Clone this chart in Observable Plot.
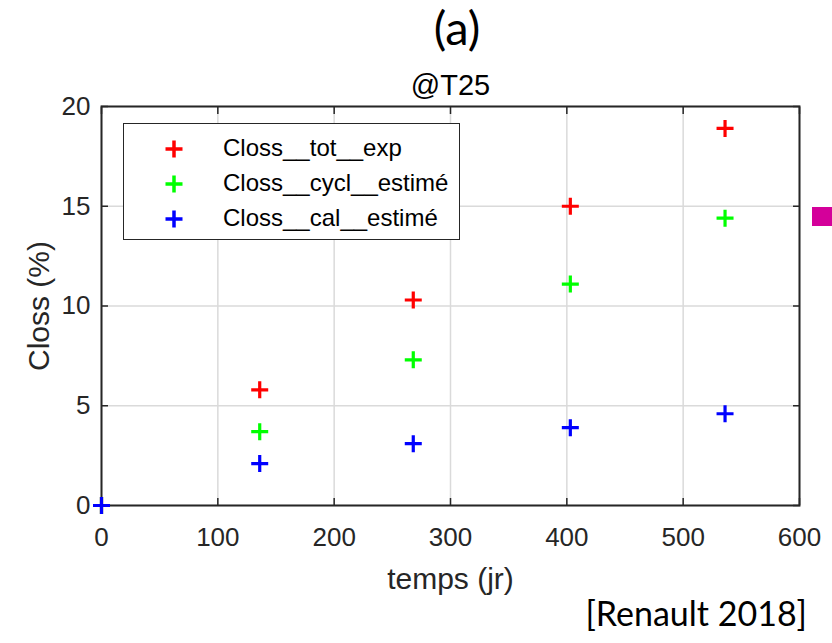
<!DOCTYPE html>
<html><head><meta charset="utf-8">
<script src="https://cdn.jsdelivr.net/npm/d3@7"></script>
<script src="https://cdn.jsdelivr.net/npm/@observablehq/plot@0.6"></script>
<style>
html,body{margin:0;padding:0;background:#fff;}
#wrap{position:relative;width:832px;height:643px;overflow:hidden;background:#fff;}
#wrap svg.plot{position:absolute;left:0;top:0;}
.title{position:absolute;left:0;width:914px;text-align:center;top:4px;font-family:Lato,"Open Sans",sans-serif;font-size:47px;color:#000;line-height:1;}
.caption{position:absolute;right:25px;top:596px;font-family:Lato,"Open Sans",sans-serif;font-size:34px;color:#000;line-height:1;}
.legend{position:absolute;left:123px;top:123px;width:335px;height:115px;border:1.5px solid #262626;background:#fff;font-family:"Liberation Sans",Arial,sans-serif;font-size:24px;color:#000;}
.legend .row{position:absolute;left:0;height:30px;line-height:30px;}
.legend .row svg{position:absolute;left:40px;top:6px;}
.legend .row span{position:absolute;left:99px;white-space:nowrap;}
.mark{position:absolute;left:812px;top:207px;width:20px;height:19px;background:#d4009a;}
</style></head><body>
<div id="wrap"></div>
<script>
// ---- data ----
const days = [0, 136, 268, 403, 536];
const clossTotExp = [0, 5.8, 10.3, 15.0, 18.9];
const clossCyclEstime = [0, 3.7, 7.3, 11.1, 14.4];
const clossCalEstime = [0, 2.1, 3.1, 3.9, 4.6];
const seriesNames = ["Closs__tot__exp", "Closs__cycl__estimé", "Closs__cal__estimé"];
const seriesColors = ["#ff0000", "#00ff00", "#0000ff"];
const xTicks = [0, 100, 200, 300, 400, 500, 600];
const yTicks = [0, 5, 10, 15, 20];
const titleText = "(a)";
const subtitleText = "@T25";
const xLabel = "temps (jr)";
const yLabel = "Closs (%)";
const captionText = "[Renault 2018]";

const seriesValues = [clossTotExp, clossCyclEstime, clossCalEstime];
const series = seriesNames.map((name, i) => ({
  name, color: seriesColors[i],
  points: days.map((t, j) => ({t, v: seriesValues[i][j]}))
}));

const plusSym = {draw(ctx) { const h = 8.5; ctx.moveTo(-h, 0); ctx.lineTo(h, 0); ctx.moveTo(0, -h); ctx.lineTo(0, h); }};
const axisFont = "'Liberation Sans',Arial,sans-serif";
const ink = "#262626";

const chart = Plot.plot({
  width: 832, height: 643,
  marginLeft: 101, marginRight: 33, marginTop: 106, marginBottom: 138,
  style: {fontFamily: axisFont, background: "transparent", color: ink},
  x: {domain: [0, 600], label: null},
  y: {domain: [0, 20], label: null},
  marks: [
    Plot.gridX(xTicks, {stroke: "#dadada", strokeOpacity: 1, strokeWidth: 1.5}),
    Plot.gridY(yTicks, {stroke: "#dadada", strokeOpacity: 1, strokeWidth: 1.5}),
    Plot.axisX(xTicks, {anchor: "bottom", tickSize: -7, tickPadding: 29, fontSize: 26, stroke: ink, fill: ink, strokeWidth: 1.5, label: null, tickFormat: d => String(d)}),
    Plot.axisX(xTicks, {anchor: "top", tickSize: -7, stroke: ink, strokeWidth: 1.5, label: null, tickFormat: () => ""}),
    Plot.axisY(yTicks, {anchor: "left", tickSize: -7, tickPadding: 18, fontSize: 26, stroke: ink, fill: ink, strokeWidth: 1.5, label: null, tickFormat: d => String(d)}),
    Plot.axisY(yTicks, {anchor: "right", tickSize: -7, stroke: ink, strokeWidth: 1.5, label: null, tickFormat: () => ""}),
    Plot.frame({stroke: ink, strokeWidth: 2}),
    ...series.map(s => Plot.dot(s.points, {x: "t", y: "v", symbol: plusSym, r: 8, fill: "none", stroke: s.color, strokeWidth: 3.2})),
    Plot.text([xLabel], {text: d => d, frameAnchor: "bottom", lineAnchor: "middle", textAnchor: "middle", dy: 74, fontSize: 30, fill: ink}),
    Plot.text([yLabel], {text: d => d, frameAnchor: "left", lineAnchor: "middle", textAnchor: "middle", dx: -62, rotate: -90, fontSize: 30, fill: ink}),
    Plot.text([subtitleText], {text: d => d, frameAnchor: "top", lineAnchor: "middle", textAnchor: "middle", dy: -21, fontSize: 29, fill: "#000"})
  ]
});

const wrap = document.getElementById("wrap");
wrap.appendChild(chart);

const t = document.createElement("div"); t.className = "title"; t.textContent = titleText; wrap.appendChild(t);
const c = document.createElement("div"); c.className = "caption"; c.textContent = captionText; wrap.appendChild(c);
const m = document.createElement("div"); m.className = "mark"; wrap.appendChild(m);

const lg = document.createElement("div"); lg.className = "legend";
const rowTops = [9, 44, 79];
series.forEach((s, i) => {
  const row = document.createElement("div"); row.className = "row"; row.style.top = rowTops[i] + "px";
  row.innerHTML = `<svg width="20" height="20" viewBox="-10 -10 20 20"><path d="M-8.5,0H8.5M0,-8.5V8.5" stroke="${s.color}" stroke-width="3.5" fill="none"/></svg><span></span>`;
  row.querySelector("span").textContent = s.name;
  lg.appendChild(row);
});
wrap.appendChild(lg);
</script>
</body></html>
